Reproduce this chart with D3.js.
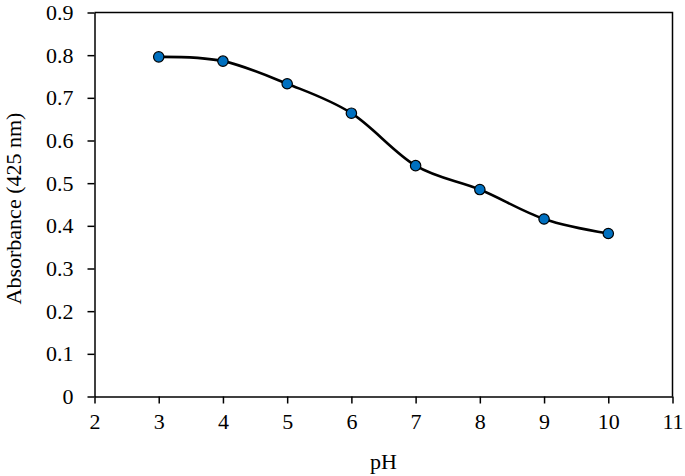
<!DOCTYPE html>
<html>
<head>
<meta charset="utf-8">
<script src="https://cdn.jsdelivr.net/npm/d3@7"></script>
<style>
  body { margin: 0; background: #fff; }
  text { font-family: "Liberation Serif", "Times New Roman", serif; fill: #000; }
</style>
</head>
<body>
<script>
// pH vs absorbance at 425 nm
const phValues = [3, 4, 5, 6, 7, 8, 9, 10];
const absorbance = [0.796, 0.786, 0.733, 0.664, 0.541, 0.485, 0.416, 0.382];
const xTicks = [2, 3, 4, 5, 6, 7, 8, 9, 10, 11];
const yTicks = [0, 0.1, 0.2, 0.3, 0.4, 0.5, 0.6, 0.7, 0.8, 0.9];

const W = 685, H = 476;
const margin = {top: 12.5, right: 12.5, bottom: 79.5, left: 94.5};
const width = W - margin.left - margin.right;
const height = H - margin.top - margin.bottom;

const svg = d3.select('body').append('svg')
  .attr('width', W)
  .attr('height', H);

const g = svg.append('g')
  .attr('transform', `translate(${margin.left},${margin.top})`);

const xScale = d3.scaleLinear().domain([2, 11]).range([0, width]);
const yScale = d3.scaleLinear().domain([0, 0.9]).range([height, 0]);

// plot frame (top and right)
g.append('path')
  .attr('d', `M0,0H${width}V${height}`)
  .attr('fill', 'none')
  .attr('stroke', '#000')
  .attr('stroke-width', 1.5);

const xAxis = g.append('g')
  .attr('transform', `translate(0,${height})`)
  .call(d3.axisBottom(xScale).tickValues(xTicks).tickFormat(d3.format('d'))
    .tickSize(7).tickSizeOuter(0).tickPadding(10));

const yAxis = g.append('g')
  .call(d3.axisLeft(yScale).tickValues(yTicks).tickFormat(d => d === 0 ? '0' : d3.format('.1f')(d))
    .tickSize(7).tickSizeOuter(0).tickPadding(14));

[xAxis, yAxis].forEach(a => {
  a.attr('font-family', '"Liberation Serif", serif').attr('font-size', 22);
  a.select('.domain').attr('stroke', '#000').attr('stroke-width', 1.5);
  a.selectAll('.tick line').attr('stroke', '#000').attr('stroke-width', 1.5);
  a.selectAll('.tick text').attr('fill', '#000');
});

// smooth line
const pts = phValues.map((p, i) => [p, absorbance[i]]);
const line = d3.line()
  .x(d => xScale(d[0]))
  .y(d => yScale(d[1]))
  .curve(d3.curveCatmullRom.alpha(0));

g.append('path')
  .datum(pts)
  .attr('d', line)
  .attr('fill', 'none')
  .attr('stroke', '#000')
  .attr('stroke-width', 2.6);

g.selectAll('circle')
  .data(pts)
  .join('circle')
  .attr('cx', d => xScale(d[0]))
  .attr('cy', d => yScale(d[1]))
  .attr('r', 5.2)
  .attr('fill', '#0070C0')
  .attr('stroke', '#000')
  .attr('stroke-width', 1.2);

// axis titles
svg.append('text')
  .attr('x', margin.left + width / 2)
  .attr('y', 469)
  .attr('text-anchor', 'middle')
  .attr('font-size', 22)
  .text('pH');

svg.append('text')
  .attr('transform', `translate(21,${margin.top + height / 2 + 4}) rotate(-90)`)
  .attr('text-anchor', 'middle')
  .attr('font-size', 22)
  .text('Absorbance (425 nm)');
</script>
</body>
</html>
